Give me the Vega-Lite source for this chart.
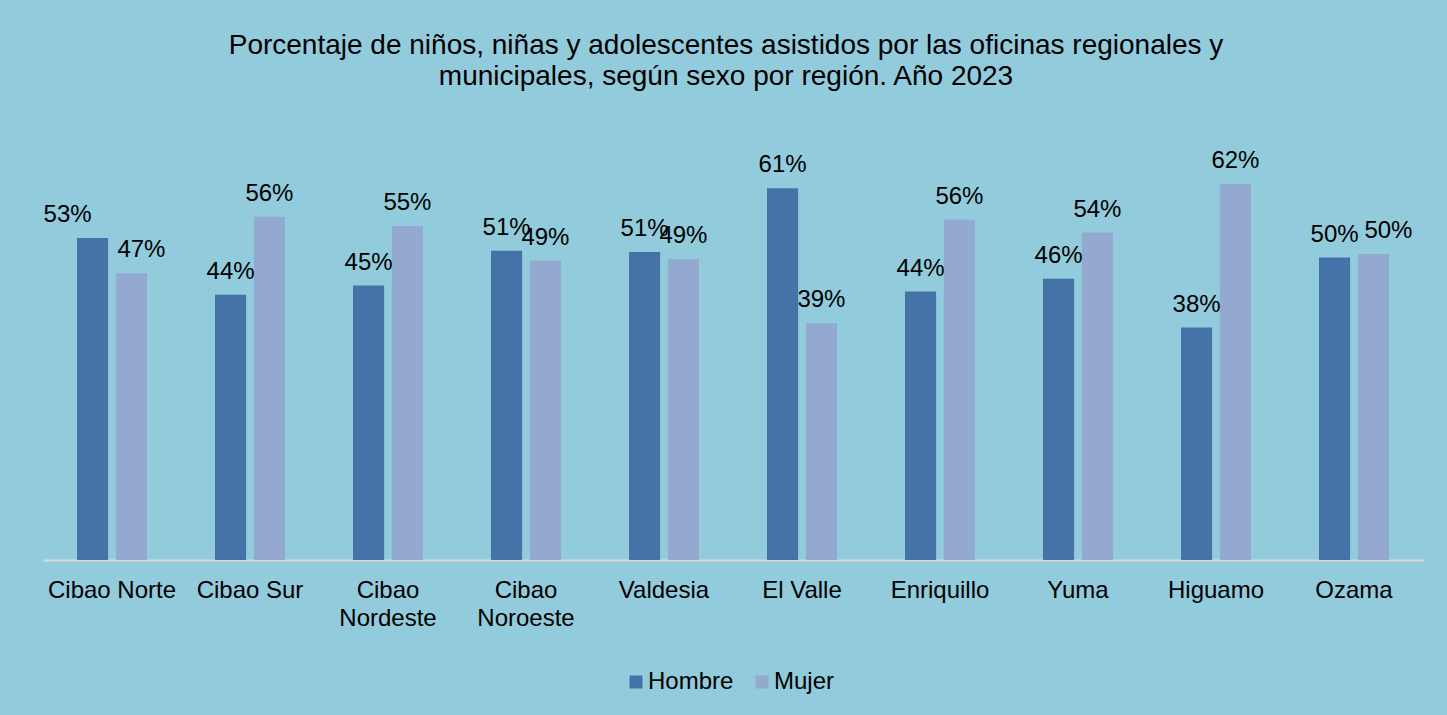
{
  "$schema": "https://vega.github.io/schema/vega-lite/v6.json",
  "autosize": {"type": "none"},
  "width": 1380,
  "height": 426,
  "padding": {"left": 43, "top": 134, "right": 24, "bottom": 155},
  "background": "#92CBDC",
  "config": {
    "view": {"stroke": null},
    "font": "Liberation Sans",
    "text": {"font": "Liberation Sans"}
  },
  "title": {
    "text": ["Porcentaje de niños, niñas y adolescentes asistidos por las oficinas regionales y", "municipales, según sexo por región. Año 2023"],
    "fontSize": 28,
    "fontWeight": "normal",
    "font": "Liberation Sans",
    "color": "#000000",
    "lineHeight": 31,
    "anchor": "middle",
    "dx": -7,
    "offset": 43
  },
  "data": {
    "values": [
      {"region": "Cibao Norte", "sexo": "Hombre", "pct": 0.529},
      {"region": "Cibao Norte", "sexo": "Mujer", "pct": 0.471},
      {"region": "Cibao Sur", "sexo": "Hombre", "pct": 0.436},
      {"region": "Cibao Sur", "sexo": "Mujer", "pct": 0.564},
      {"region": "Cibao Nordeste", "sexo": "Hombre", "pct": 0.451},
      {"region": "Cibao Nordeste", "sexo": "Mujer", "pct": 0.549},
      {"region": "Cibao Noroeste", "sexo": "Hombre", "pct": 0.508},
      {"region": "Cibao Noroeste", "sexo": "Mujer", "pct": 0.492},
      {"region": "Valdesia", "sexo": "Hombre", "pct": 0.506},
      {"region": "Valdesia", "sexo": "Mujer", "pct": 0.494},
      {"region": "El Valle", "sexo": "Hombre", "pct": 0.611},
      {"region": "El Valle", "sexo": "Mujer", "pct": 0.389},
      {"region": "Enriquillo", "sexo": "Hombre", "pct": 0.441},
      {"region": "Enriquillo", "sexo": "Mujer", "pct": 0.559},
      {"region": "Yuma", "sexo": "Hombre", "pct": 0.462},
      {"region": "Yuma", "sexo": "Mujer", "pct": 0.538},
      {"region": "Higuamo", "sexo": "Hombre", "pct": 0.382},
      {"region": "Higuamo", "sexo": "Mujer", "pct": 0.618},
      {"region": "Ozama", "sexo": "Hombre", "pct": 0.497},
      {"region": "Ozama", "sexo": "Mujer", "pct": 0.503}
    ]
  },
  "encoding": {
    "x": {
      "field": "region",
      "type": "nominal",
      "sort": null,
      "title": null,
      "scale": {"paddingInner": 0.493, "paddingOuter": 0.2465},
      "axis": {
        "labelAngle": 0,
        "labelFontSize": 24,
        "labelColor": "#000000",
        "labelFont": "Liberation Sans",
        "labelPadding": 18,
        "labelLineHeight": 28,
        "labelExpr": "datum.label == 'Cibao Nordeste' ? ['Cibao', 'Nordeste'] : datum.label == 'Cibao Noroeste' ? ['Cibao', 'Noroeste'] : datum.label",
        "ticks": false,
        "domainColor": "#D9D9D9",
        "domainWidth": 2,
        "labelBound": false
      }
    },
    "xOffset": {"field": "sexo", "type": "nominal", "scale": {"paddingInner": 0.2, "paddingOuter": 0}},
    "y": {
      "field": "pct",
      "type": "quantitative",
      "scale": {"domain": [0, 0.7]},
      "axis": null
    }
  },
  "layer": [
    {
      "mark": {"type": "bar"},
      "encoding": {
        "color": {
          "field": "sexo",
          "type": "nominal",
          "scale": {"domain": ["Hombre", "Mujer"], "range": ["#4572A7", "#93A9CF"]},
          "legend": {
            "title": null,
            "orient": "none",
            "legendX": 581,
            "legendY": 536,
            "padding": 0,
            "direction": "horizontal",
            "symbolType": "square",
            "symbolSize": 169,
            "symbolStrokeWidth": 0,
            "labelFontSize": 24,
            "labelFont": "Liberation Sans",
            "labelColor": "#000000",
            "columnPadding": 16,
            "labelOffset": 0
          }
        }
      }
    },
    {
      "transform": [{"filter": "datum.region != 'Cibao Norte' && !(datum.region == 'Ozama' && datum.sexo == 'Mujer')"}],
      "mark": {"type": "text", "baseline": "alphabetic", "dy": -16, "fontSize": 24, "font": "Liberation Sans", "color": "#000000"},
      "encoding": {"text": {"field": "pct", "type": "quantitative", "format": ".0%"}}
    },
    {
      "transform": [{"filter": "datum.region == 'Cibao Norte' && datum.sexo == 'Hombre'"}],
      "mark": {"type": "text", "baseline": "alphabetic", "dy": -16, "dx": -25, "fontSize": 24, "font": "Liberation Sans", "color": "#000000"},
      "encoding": {"text": {"field": "pct", "type": "quantitative", "format": ".0%"}}
    },
    {
      "transform": [{"filter": "(datum.region == 'Cibao Norte' && datum.sexo == 'Mujer')"}],
      "mark": {"type": "text", "baseline": "alphabetic", "dy": -16, "dx": 10, "fontSize": 24, "font": "Liberation Sans", "color": "#000000"},
      "encoding": {"text": {"field": "pct", "type": "quantitative", "format": ".0%"}}
    },
    {
      "transform": [{"filter": "(datum.region == 'Ozama' && datum.sexo == 'Mujer')"}],
      "mark": {"type": "text", "baseline": "alphabetic", "dy": -16, "dx": 15, "fontSize": 24, "font": "Liberation Sans", "color": "#000000"},
      "encoding": {"text": {"field": "pct", "type": "quantitative", "format": ".0%"}}
    }
  ]
}
